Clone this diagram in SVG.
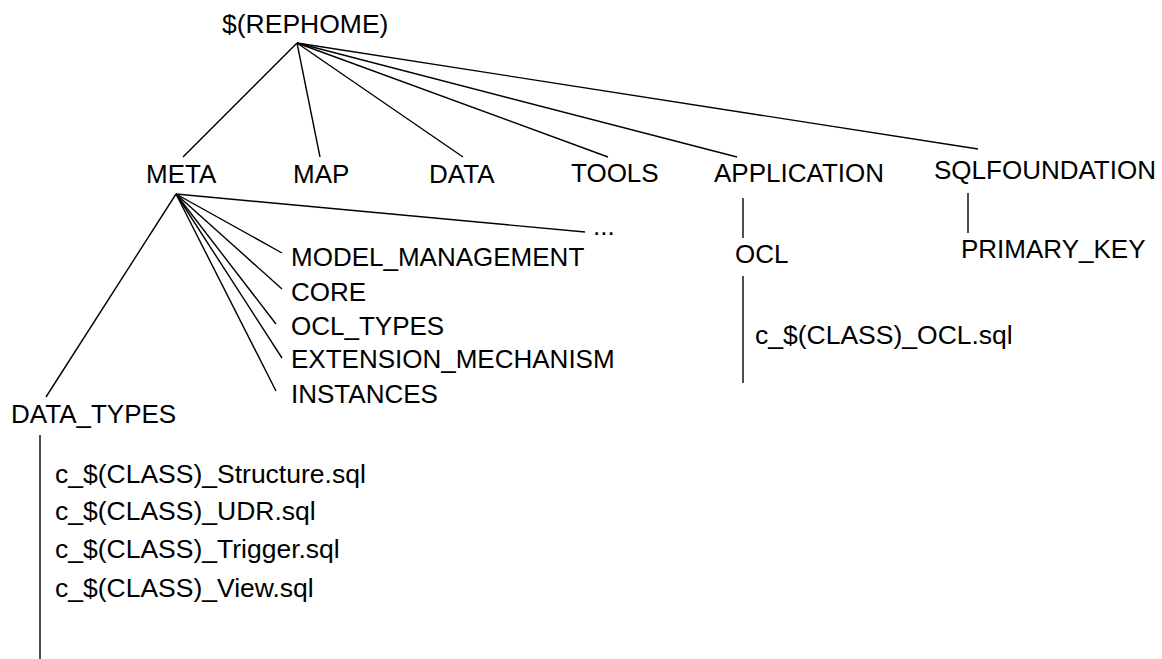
<svg xmlns="http://www.w3.org/2000/svg" width="1162" height="659" viewBox="0 0 1162 659">
<style>
text { font-family: "Liberation Sans", Arial, sans-serif; font-size: 26px; fill: #000; }
.f { font-size: 26.5px; }
.e { stroke: #000; stroke-width: 1.4; fill: none; }
.v { stroke: #222; stroke-width: 1.6; fill: none; }
</style>
<rect width="1162" height="659" fill="#fff"/>
<g id="connectors">
<line class="e" x1="297" y1="43" x2="183" y2="157"/>
<line class="e" x1="297" y1="43" x2="320" y2="157"/>
<line class="e" x1="297" y1="43" x2="463" y2="157"/>
<line class="e" x1="297" y1="43" x2="608" y2="157"/>
<line class="e" x1="297" y1="43" x2="737" y2="157"/>
<line class="e" x1="297" y1="43" x2="978" y2="149"/>
<line class="e" x1="176" y1="194" x2="46" y2="397"/>
<line class="e" x1="176" y1="194" x2="585" y2="232"/>
<line class="e" x1="176" y1="194" x2="282" y2="253"/>
<line class="e" x1="176" y1="194" x2="282" y2="289"/>
<line class="e" x1="176" y1="194" x2="276" y2="324"/>
<line class="e" x1="176" y1="194" x2="282" y2="358"/>
<line class="e" x1="176" y1="194" x2="276" y2="391"/>
<line class="v" x1="743" y1="198" x2="743" y2="238"/>
<line class="v" x1="743" y1="276" x2="743" y2="383"/>
<line class="v" x1="968" y1="193" x2="968" y2="233"/>
<line class="v" x1="40" y1="435" x2="40" y2="659"/>
</g>
<g id="rephome"><text class="f" x="222" y="33">$(REPHOME)</text></g>
<g id="meta"><text x="146" y="183">META</text></g>
<g id="map"><text x="293" y="183">MAP</text></g>
<g id="data"><text x="429" y="183">DATA</text></g>
<g id="tools"><text x="571" y="182">TOOLS</text></g>
<g id="application"><text x="714" y="182">APPLICATION</text></g>
<g id="sqlfoundation"><text x="934" y="179">SQLFOUNDATION</text></g>
<g id="more"><text x="593" y="235">...</text></g>
<g id="model_management"><text x="291" y="266">MODEL_MANAGEMENT</text></g>
<g id="core"><text x="291" y="301">CORE</text></g>
<g id="ocl_types"><text x="291" y="335">OCL_TYPES</text></g>
<g id="extension_mechanism"><text x="291" y="368">EXTENSION_MECHANISM</text></g>
<g id="instances"><text x="291" y="403">INSTANCES</text></g>
<g id="data_types"><text x="11" y="423">DATA_TYPES</text></g>
<g id="ocl"><text x="735" y="263">OCL</text></g>
<g id="primary_key"><text x="961" y="258">PRIMARY_KEY</text></g>
<g id="ocl_sql"><text class="f" x="755" y="344">c_$(CLASS)_OCL.sql</text></g>
<g id="files">
<text class="f" x="55" y="483">c_$(CLASS)_Structure.sql</text>
<text class="f" x="55" y="520">c_$(CLASS)_UDR.sql</text>
<text class="f" x="55" y="558">c_$(CLASS)_Trigger.sql</text>
<text class="f" x="55" y="597">c_$(CLASS)_View.sql</text>
</g>
</svg>
